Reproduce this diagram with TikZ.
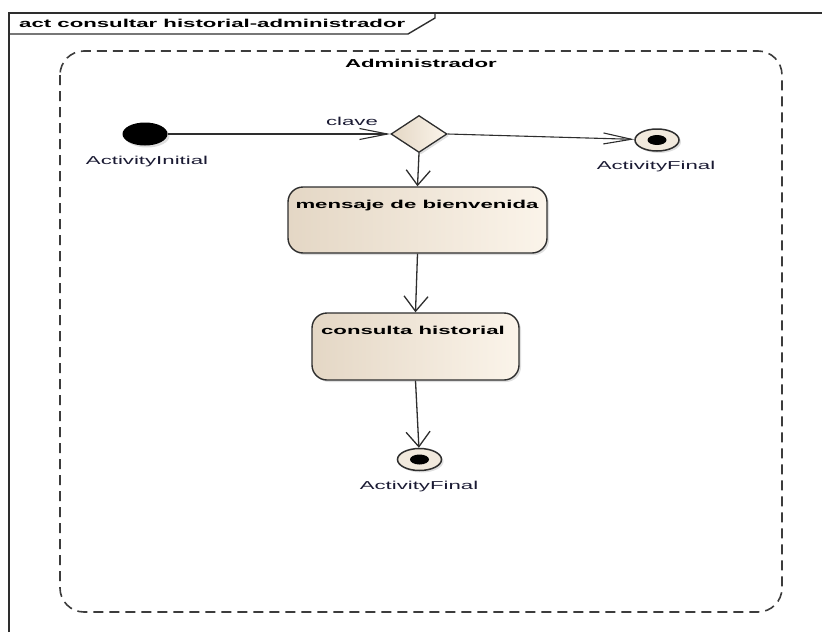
\documentclass[tikz,border=0pt]{standalone}
\usepackage{fontspec}
\setmainfont{Liberation Sans}
\usepackage{graphicx}
\usepackage{xcolor}
\usetikzlibrary{shapes.geometric,arrows.meta,shadows}

\definecolor{actL}{HTML}{E4D7C5}
\definecolor{actR}{HTML}{FBF4EA}
\definecolor{finFill}{HTML}{F1E9DD}
\definecolor{lineG}{HTML}{2E2E2E}
\definecolor{dashG}{HTML}{3C3C3C}
\definecolor{txtB}{HTML}{1A1A33}
\newcommand{\wtxt}[1]{\scalebox{1.93}[1]{#1}}

\tikzset{
  actshadow/.style={drop shadow={shadow xshift=2pt, shadow yshift=-2pt, opacity=0.25}},
  actbox/.style={draw=lineG, line width=1.4pt, rounded corners=15pt, inner sep=0pt,
    left color=actL, right color=actR, actshadow},
  decision/.style={diamond, draw=lineG, line width=1.3pt, inner sep=0pt,
    minimum width=56pt, minimum height=37pt, left color=actL, right color=actR, actshadow},
  initial/.style={ellipse, fill=black, inner sep=0pt, minimum width=45pt, minimum height=23pt, actshadow},
  final/.style={ellipse, draw=lineG, line width=1.5pt, fill=finFill, inner sep=0pt,
    minimum width=44pt, minimum height=22pt, actshadow,
    path picture={\fill[black] (path picture bounding box.center) ellipse (9.5pt and 5pt);}},
  lbl/.style={anchor=base, inner sep=0pt, text=txtB, font=\fontsize{11.5}{13}\selectfont},
  bold/.style={anchor=base, inner sep=0pt, text=black, font=\fontsize{11.5}{13}\selectfont\bfseries},
  flowh/.style={draw=lineG, line width=1.1pt, -{Straight Barb[length=28pt,width=11pt]}},
  flowv/.style={draw=lineG, line width=1.3pt, -{Straight Barb[length=15pt,width=24pt]}}
}

\begin{document}
\begin{tikzpicture}[x=1pt, y=-1pt]
        \useasboundingbox (0,0) rectangle (822,632);

                % Frame
                \draw[lineG, line width=1.6pt] (9,632) -- (9,13) -- (822,13);
                \draw[lineG, line width=1.4pt] (9,34) -- (408,34) -- (435,18) -- (435,13);
                \node[bold, anchor=base west] (title) at (19,27.3) {\wtxt{act consultar historial-administrador}};

                % Partition
                \draw[dashG, line width=1.6pt, dash pattern=on 10pt off 6pt, rounded corners=24pt] (60,51) rectangle (782,612);
                \node[bold] (part) at (421,67) {\wtxt{Administrador}};

                % Nodes
                \node[initial] (init) at (145,134) {};
                \node[decision] (dec) at (419,134) {};
                \node[final] (fin1) at (657,140) {};
                \node[actbox, minimum width=259pt, minimum height=66pt] (msg) at (417.5,220) {};
                \node[actbox, minimum width=207pt, minimum height=67pt] (hist) at (415.5,346.5) {};
                \node[final] (fin2) at (419.5,459.5) {};

                % Labels
                \node[lbl] (initlbl) at (147,164) {\wtxt{ActivityInitial}};
                \node[lbl] (clave) at (352,125) {\wtxt{clave}};
                \node[lbl] (fin1lbl) at (656,169) {\wtxt{ActivityFinal}};
                \node[bold] (msglbl) at (417,208) {\wtxt{mensaje de bienvenida}};
                \node[bold] (histlbl) at (413,334) {\wtxt{consulta historial}};
                \node[lbl] (fin2lbl) at (419,489) {\wtxt{ActivityFinal}};

                % Edges
                \draw[flowh] (init) -- (dec.west);
                \draw[flowh] (dec.east) -- (fin1);
                \draw[flowv] (dec.south) -- (msg.north);
                \draw[flowv] (msg.south) -- (hist.north);
                \draw[flowv] (hist.south) -- (fin2);

\end{tikzpicture}
\end{document}
